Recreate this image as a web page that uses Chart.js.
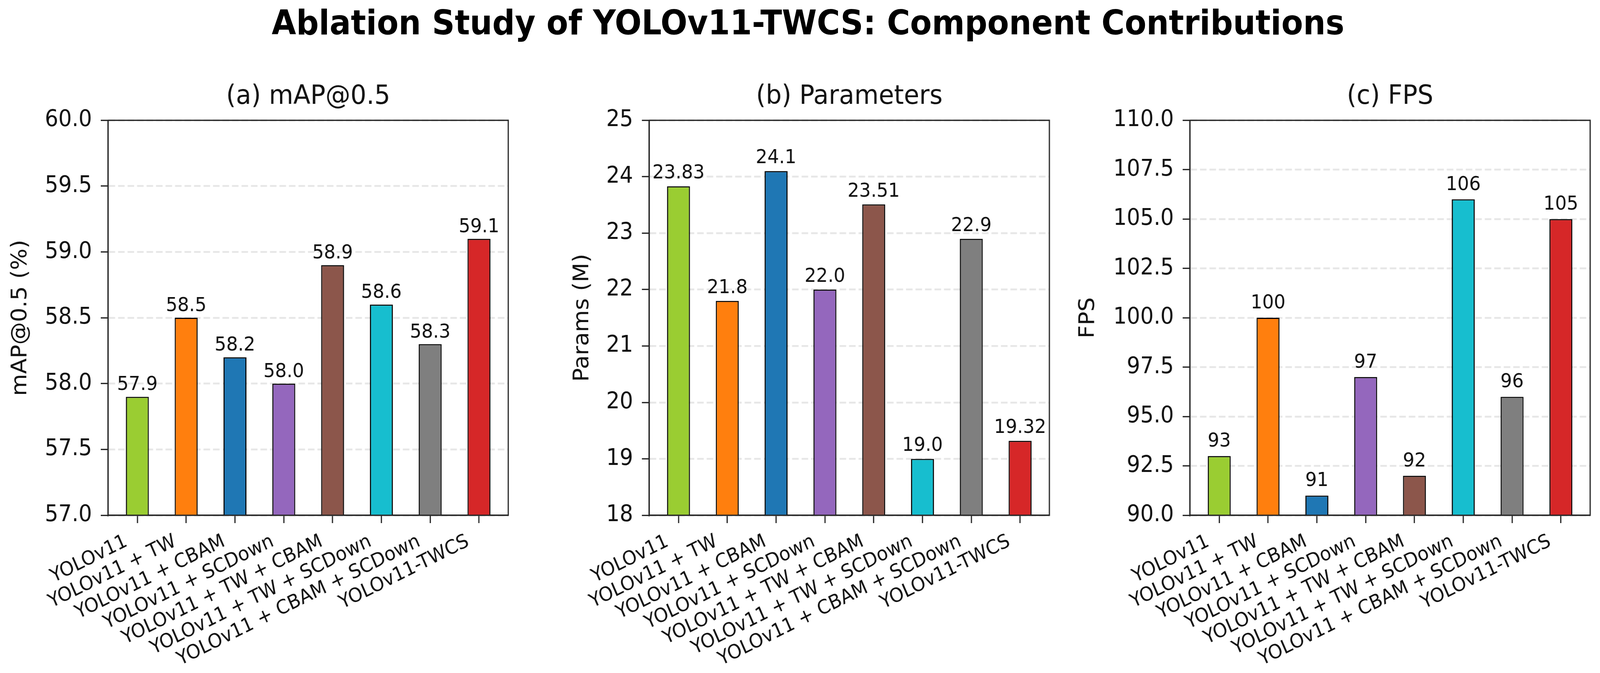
<!DOCTYPE html>
<html>
<head>
<meta charset="utf-8">
<title>Ablation Study of YOLOv11-TWCS</title>
<script src="https://cdn.jsdelivr.net/npm/chart.js@4.4.1/dist/chart.umd.min.js"></script>
<style>
  html, body { margin: 0; padding: 0; background: #fff; overflow: hidden; }
  #page {
    position: relative; width: 4382px; height: 1724px; overflow: hidden; background: #fff;
    transform-origin: 0 0;
  }
  #suptitle {
    position: absolute; left: 0; top: 15px; width: 4426px; text-align: center;
    font: bold 86.5px/86px "DejaVu Sans"; color: #000; white-space: nowrap;
  }
  canvas { position: absolute; top: 0; }
</style>
</head>
<body>
<div id="page">
  <div id="suptitle">Ablation Study of YOLOv11-TWCS: Component Contributions</div>
  <canvas id="chartMap" width="1461" height="1724" style="left:0"></canvas>
  <canvas id="chartParams" width="1461" height="1724" style="left:1461px"></canvas>
  <canvas id="chartFps" width="1460" height="1724" style="left:2922px"></canvas>
</div>
<script>
// Data
const categories = [
  'YOLOv11', 'YOLOv11 + TW', 'YOLOv11 + CBAM', 'YOLOv11 + SCDown',
  'YOLOv11 + TW + CBAM', 'YOLOv11 + TW + SCDown', 'YOLOv11 + CBAM + SCDown', 'YOLOv11-TWCS'
];
const mapValues = [57.9, 58.5, 58.2, 58.0, 58.9, 58.6, 58.3, 59.1];
const paramValues = [23.83, 21.8, 24.1, 22.0, 23.51, 19.0, 22.9, 19.32];
const fpsValues = [93, 100, 91, 97, 92, 106, 96, 105];

const mapTicks = [57.0, 57.5, 58.0, 58.5, 59.0, 59.5, 60.0];
const paramTicks = [18, 19, 20, 21, 22, 23, 24, 25];
const fpsTicks = [90.0, 92.5, 95.0, 97.5, 100.0, 102.5, 105.0, 107.5, 110.0];

const barColors = ['#9acd32', '#ff7f0e', '#1f77b4', '#9467bd', '#8c564b', '#17becf', '#7f7f7f', '#d62728'];

const spineColor = '#262626';
const textColor = '#111';
Chart.defaults.font.family = '"DejaVu Sans"';
Chart.defaults.color = textColor;

// the page is laid out at 4382x1724; squeeze it into whatever viewport we get
function fitPage() {
  const page = document.getElementById('page');
  const sx = window.innerWidth / 4382;
  const sy = window.innerHeight / 1724;
  page.style.transform = 'scale(' + sx + ',' + sy + ')';
}
fitPage();
window.addEventListener('resize', fitPage);

// one decimal when the value is whole (python str(float) look)
const floatText = v => Number.isInteger(v) ? v.toFixed(1) : String(v);

const panels = [
  { id: 'chartMap', title: '(a) mAP@0.5', yLabel: 'mAP@0.5 (%)', values: mapValues, ticks: mapTicks,
    tickText: v => v.toFixed(1), valueText: floatText,
    axisWidth: 296, padRight: 69, yTitlePad: 22, labelGap: 17 },
  { id: 'chartParams', title: '(b) Parameters', yLabel: 'Params (M)', values: paramValues, ticks: paramTicks,
    tickText: v => String(v), valueText: floatText,
    axisWidth: 317, padRight: 48, yTitlePad: 100, labelGap: 20 },
  { id: 'chartFps', title: '(c) FPS', yLabel: 'FPS', values: fpsValues, ticks: fpsTicks,
    tickText: v => v.toFixed(1), valueText: v => String(v),
    axisWidth: 337, padRight: 27, yTitlePad: 24, labelGap: 24 }
];

// top and right spines (matplotlib box)
const framePlugin = {
  id: 'frame',
  afterDraw(chart) {
    const { ctx, chartArea: a } = chart;
    ctx.save();
    ctx.strokeStyle = spineColor;
    ctx.lineWidth = 3.3;
    ctx.strokeRect(a.left, a.top, a.right - a.left, a.bottom - a.top);
    ctx.restore();
  }
};

function valueLabels(panel) {
  return {
    id: 'valueLabels',
    afterDraw(chart) {
      const ctx = chart.ctx;
      const bars = chart.getDatasetMeta(0).data;
      ctx.save();
      ctx.font = '50px "DejaVu Sans"';
      ctx.fillStyle = textColor;
      ctx.textAlign = 'center';
      ctx.textBaseline = 'alphabetic';
      bars.forEach((bar, i) => {
        ctx.fillText(panel.valueText(panel.values[i]), bar.x, bar.y - panel.labelGap);
      });
      ctx.restore();
    }
  };
}

panels.forEach(p => {
  new Chart(document.getElementById(p.id), {
    type: 'bar',
    data: {
      datasets: [{
        data: p.values.map((v, i) => ({ x: i, y: v })),
        backgroundColor: barColors,
        borderColor: '#000',
        borderWidth: 3,
        borderSkipped: false,
        barPercentage: 0.47,
        categoryPercentage: 1
      }]
    },
    options: {
      responsive: false,
      animation: false,
      devicePixelRatio: 1,
      layout: { padding: { top: 207, right: p.padRight, bottom: 0, left: 0 } },
      plugins: {
        legend: { display: false },
        tooltip: { enabled: false },
        title: {
          display: true, text: p.title, fullSize: false, color: textColor,
          font: { size: 68.5, weight: 'normal' }, padding: { top: 0, bottom: 19 }
        }
      },
      scales: {
        x: {
          type: 'linear', min: -0.6, max: 7.6, offset: false,
          grid: { drawOnChartArea: false, offset: false, tickLength: 20, tickWidth: 3.3, tickColor: spineColor },
          border: { color: spineColor, width: 3.3 },
          ticks: {
            autoSkip: false, minRotation: 25, maxRotation: 25, padding: 18, labelOffset: -30,
            color: textColor, font: { size: 50 }, callback: v => categories[v]
          },
          afterBuildTicks: s => { s.ticks = categories.map((c, i) => ({ value: i })); },
          afterFit: s => { s.height = 404; s.paddingLeft = 0; s.paddingRight = 0; }
        },
        y: {
          min: p.ticks[0], max: p.ticks[p.ticks.length - 1], z: 1,
          grid: { color: 'rgba(176,176,176,0.3)', lineWidth: 4.7, tickLength: 20, tickWidth: 3.3, tickColor: spineColor },
          border: { color: spineColor, width: 3.3, dash: [18, 8] },
          ticks: { padding: 24, color: textColor, font: { size: 58 }, callback: v => p.tickText(v) },
          title: {
            display: true, text: p.yLabel, color: textColor,
            font: { size: 58 }, padding: { top: p.yTitlePad, bottom: 0 }
          },
          afterBuildTicks: s => { s.ticks = p.ticks.map(v => ({ value: v })); },
          afterFit: s => { s.width = p.axisWidth; }
        }
      }
    },
    plugins: [framePlugin, valueLabels(p)]
  });
});
</script>
</body>
</html>
